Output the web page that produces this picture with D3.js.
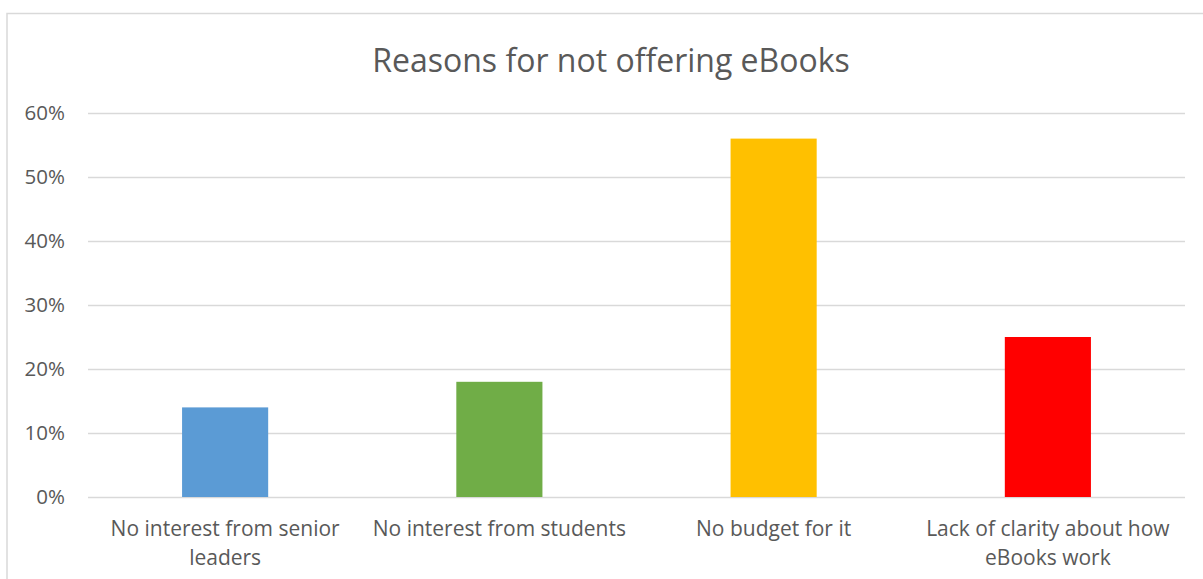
<!DOCTYPE html>
<html>
<head>
<meta charset="utf-8">
<script src="https://cdn.jsdelivr.net/npm/d3@7"></script>
<style>
  body { margin: 0; background: #fff; }
  text { font-family: "Open Sans", sans-serif; fill: #595959; }
</style>
</head>
<body>
<svg id="chart" width="1203" height="579"></svg>
<script>
// data
var categories = ["No interest from senior leaders", "No interest from students", "No budget for it", "Lack of clarity about how eBooks work"];
var label_lines = [["No interest from senior", "leaders"], ["No interest from students"], ["No budget for it"], ["Lack of clarity about how", "eBooks work"]];
var values = [0.14, 0.18, 0.56, 0.25];
var colours = ["#5b9bd5", "#70ad47", "#ffc000", "#ff0000"];
var y_ticks = [0, 0.1, 0.2, 0.3, 0.4, 0.5, 0.6];
var title = "Reasons for not offering eBooks";

chart();

function chart() {
    var svg = d3.select("#chart"),
        margin = {top: 113, left: 88, bottom: 82, right: 18},
        width = +svg.attr("width"),
        height = +svg.attr("height");

    // chart frame (runs off the right and bottom edges like the original)
    svg.append("rect")
        .attr("x", 7).attr("y", 13.5)
        .attr("width", 1208).attr("height", 620)
        .attr("fill", "none").attr("stroke", "#d9d9d9").attr("stroke-width", 1.5);

    var x = d3.scaleBand()
        .domain(categories)
        .range([margin.left, width - margin.right])
        .paddingInner(0.686)
        .paddingOuter(0.343);

    var y = d3.scaleLinear()
        .domain([0, 0.6])
        .range([height - margin.bottom, margin.top]);

    // gridlines + y labels
    var yAxis = svg.append("g")
        .attr("transform", `translate(${margin.left},0)`)
        .call(d3.axisLeft(y).tickValues(y_ticks).tickFormat(d3.format(".0%"))
            .tickSize(-(width - margin.right - margin.left)).tickPadding(23));
    yAxis.select(".domain").remove();
    yAxis.selectAll(".tick line").attr("stroke", "#d9d9d9").attr("stroke-width", 1.5);
    yAxis.selectAll(".tick text")
        .style("font-family", "'Open Sans', sans-serif")
        .style("font-size", "20.5px").attr("fill", "#595959");

    // bars
    svg.append("g").selectAll("rect")
        .data(values)
        .join("rect")
        .attr("x", (d, i) => x(categories[i]))
        .attr("y", d => y(d))
        .attr("width", x.bandwidth())
        .attr("height", d => y(0) - y(d))
        .attr("fill", (d, i) => colours[i]);

    // category labels, wrapped like the original
    var xl = svg.append("g").selectAll("text")
        .data(categories)
        .join("text")
        .attr("x", d => x(d) + x.bandwidth() / 2)
        .attr("y", 536)
        .attr("text-anchor", "middle")
        .style("font-size", "21px");
    xl.each(function(d, i) {
        d3.select(this).selectAll("tspan")
            .data(label_lines[i])
            .join("tspan")
            .attr("x", x(d) + x.bandwidth() / 2)
            .attr("dy", (t, j) => j === 0 ? 0 : 29)
            .text(t => t);
    });

    // title
    svg.append("text")
        .attr("x", 611)
        .attr("y", 72)
        .attr("text-anchor", "middle")
        .style("font-size", "32px")
        .text(title);
}
</script>
</body>
</html>
